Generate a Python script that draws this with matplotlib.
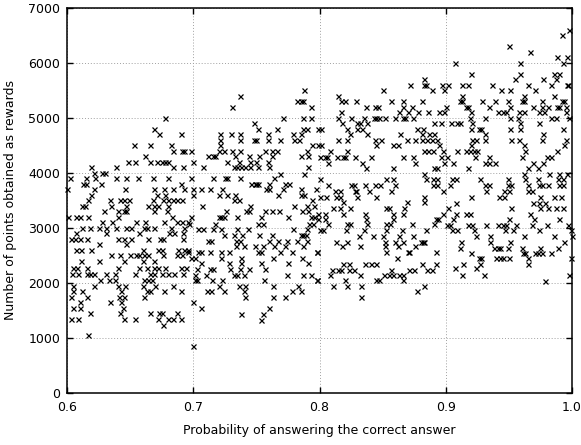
import matplotlib
matplotlib.use('Agg')
import matplotlib.pyplot as plt

# points, grouped by probability band:
# each entry is (reward points, [probabilities at that reward level])
band_060 = [
    (5000, [0.678]), (4800, [0.669]), (4700, [0.673, 0.690]),
    (4500, [0.653, 0.666, 0.682]), (4400, [0.684, 0.691, 0.693]), (4300, [0.662]),
    (4200, [0.648, 0.654, 0.666, 0.671, 0.675, 0.678, 0.680]),
    (4100, [0.619, 0.639, 0.684, 0.692]), (4000, [0.621, 0.628, 0.630]),
    (3900, [0.602, 0.615, 0.622, 0.639, 0.647, 0.656, 0.668, 0.680]),
    (3800, [0.613, 0.615, 0.627, 0.690]),
    (3700, [0.600, 0.621, 0.646, 0.669, 0.677, 0.684, 0.693]),
    (3600, [0.619, 0.671, 0.678]),
    (3500, [0.617, 0.634, 0.642, 0.645, 0.649, 0.668, 0.676, 0.680, 0.684, 0.687, 0.691]),
    (3400, [0.612, 0.614, 0.635, 0.647, 0.664, 0.669, 0.672, 0.680]),
    (3300, [0.629, 0.640, 0.645, 0.647, 0.669, 0.679]),
    (3200, [0.601, 0.607, 0.610, 0.617, 0.640, 0.683]),
    (3100, [0.628, 0.636, 0.655, 0.662, 0.677, 0.687, 0.691, 0.696]),
    (3000, [0.612, 0.618, 0.625, 0.631, 0.639, 0.647, 0.651, 0.661, 0.663, 0.669, 0.682, 0.693]),
    (2900, [0.607, 0.631, 0.657, 0.681, 0.685, 0.692]),
    (2800, [0.603, 0.606, 0.610, 0.616, 0.640, 0.645, 0.651, 0.664, 0.674, 0.676, 0.692]),
    (2700, [0.625, 0.647]),
    (2600, [0.607, 0.611, 0.619, 0.660, 0.672, 0.675, 0.688, 0.693, 0.696]),
    (2500, [0.635, 0.642, 0.650, 0.655, 0.657, 0.661, 0.664, 0.676, 0.687, 0.691]),
    (2400, [0.611, 0.625, 0.645, 0.660, 0.669]),
    (2270, [0.605, 0.608, 0.616, 0.640, 0.657, 0.663, 0.669, 0.672, 0.678, 0.690, 0.694]),
    (2160, [0.604, 0.609, 0.616, 0.618, 0.621, 0.631, 0.638, 0.654, 0.666, 0.669, 0.675, 0.680, 0.685, 0.692]),
    (2050, [0.626, 0.633, 0.638, 0.661, 0.664, 0.667]),
    (1950, [0.605, 0.621, 0.640, 0.646, 0.660, 0.670, 0.684]),
    (1850, [0.605, 0.612, 0.643, 0.663, 0.666, 0.677, 0.690]),
    (1750, [0.603, 0.616, 0.641, 0.645, 0.661]),
    (1650, [0.610, 0.634, 0.643]), (1550, [0.605, 0.610, 0.644]),
    (1450, [0.618, 0.642, 0.666, 0.673, 0.675, 0.687]),
    (1350, [0.603, 0.609, 0.645, 0.654, 0.672, 0.680, 0.684, 0.690]),
    (1240, [0.676]), (1050, [0.617]),
]

band_070 = [
    (5500, [0.788]), (5400, [0.737]), (5300, [0.782, 0.785, 0.787]), (5200, [0.731, 0.793]),
    (5000, [0.771, 0.787, 0.793]), (4900, [0.748]),
    (4800, [0.751, 0.766, 0.787, 0.790, 0.799, 0.801]),
    (4700, [0.721, 0.730, 0.737, 0.759, 0.779, 0.785]),
    (4600, [0.721, 0.737, 0.748, 0.750, 0.759, 0.769, 0.780, 0.784]),
    (4500, [0.721, 0.794, 0.799]),
    (4400, [0.698, 0.720, 0.724, 0.731, 0.737, 0.757, 0.762, 0.766, 0.790]),
    (4300, [0.712, 0.716, 0.717, 0.733, 0.744, 0.752, 0.762, 0.785, 0.791]),
    (4200, [0.700, 0.727, 0.736, 0.745, 0.750, 0.759]),
    (4100, [0.708, 0.732, 0.735, 0.738, 0.741, 0.745, 0.751, 0.760, 0.791]),
    (3980, [0.769, 0.788]),
    (3900, [0.698, 0.716, 0.725, 0.727, 0.737, 0.764]),
    (3800, [0.746, 0.749, 0.750, 0.751, 0.760, 0.773, 0.776]),
    (3700, [0.700, 0.706, 0.713, 0.723, 0.758, 0.760, 0.771, 0.785, 0.797]),
    (3600, [0.700, 0.720, 0.727, 0.733, 0.767, 0.785, 0.788]),
    (3500, [0.732, 0.736, 0.794]),
    (3400, [0.707, 0.745, 0.780, 0.790, 0.796]),
    (3300, [0.726, 0.742, 0.744, 0.757, 0.762, 0.768, 0.786, 0.791]),
    (3200, [0.698, 0.720, 0.722, 0.724, 0.735, 0.754, 0.775, 0.793, 0.796]),
    (3080, [0.697, 0.717, 0.751, 0.755, 0.792, 0.795]),
    (2980, [0.704, 0.708, 0.716, 0.722, 0.735, 0.743, 0.779, 0.790]),
    (2880, [0.724, 0.732, 0.739, 0.752, 0.762, 0.785, 0.787, 0.789]),
    (2770, [0.712, 0.714, 0.734, 0.737, 0.760, 0.767, 0.774, 0.782, 0.790]),
    (2670, [0.734, 0.740, 0.749, 0.755, 0.764, 0.773, 0.787]),
    (2570, [0.696, 0.704, 0.706, 0.713, 0.722, 0.728, 0.751, 0.754, 0.769, 0.778, 0.798]),
    (2460, [0.698, 0.701, 0.722, 0.738, 0.763, 0.786]),
    (2360, [0.706, 0.728, 0.738, 0.754, 0.775, 0.791]),
    (2260, [0.703, 0.713, 0.716, 0.729, 0.737, 0.744, 0.757]),
    (2150, [0.701, 0.710, 0.732, 0.735, 0.740, 0.774, 0.787, 0.793]),
    (2050, [0.701, 0.703, 0.715, 0.723, 0.756, 0.798]),
    (1940, [0.720, 0.736, 0.741, 0.763, 0.783]),
    (1850, [0.711, 0.714, 0.724, 0.740, 0.778, 0.785]),
    (1740, [0.741, 0.763, 0.773]), (1650, [0.700]), (1540, [0.706, 0.760]),
    (1430, [0.738, 0.755]), (1330, [0.754]), (850, [0.700]),
]

band_080 = [
    (5700, [0.883]), (5600, [0.872, 0.883, 0.884, 0.897]), (5500, [0.850, 0.889, 0.899]),
    (5400, [0.815]),
    (5300, [0.817, 0.820, 0.829, 0.857, 0.866, 0.881]),
    (5200, [0.837, 0.844, 0.846, 0.866, 0.873, 0.900]),
    (5100, [0.817, 0.863, 0.870, 0.878, 0.886, 0.895, 0.899]),
    (5000, [0.815, 0.825, 0.835, 0.843, 0.845, 0.847, 0.852, 0.860, 0.866, 0.868, 0.874]),
    (4900, [0.818, 0.830, 0.832, 0.838, 0.891, 0.896]),
    (4800, [0.822, 0.830, 0.834, 0.877, 0.882]),
    (4700, [0.824, 0.838, 0.864, 0.881, 0.887, 0.891]),
    (4600, [0.815, 0.822, 0.844, 0.849, 0.869, 0.876, 0.881, 0.885, 0.889, 0.893]),
    (4500, [0.801, 0.845, 0.858, 0.862, 0.895]),
    (4400, [0.808, 0.822, 0.883, 0.886, 0.890, 0.898]),
    (4290, [0.800, 0.804, 0.806, 0.814, 0.819, 0.820, 0.828, 0.841, 0.866, 0.874, 0.896, 0.901]),
    (4190, [0.807, 0.834, 0.876, 0.899]),
    (4090, [0.837, 0.858, 0.891, 0.893]),
    (3980, [0.883]),
    (3890, [0.800, 0.853, 0.858, 0.884, 0.890, 0.893]),
    (3790, [0.807, 0.825, 0.827, 0.836, 0.844, 0.848, 0.860, 0.890, 0.893]),
    (3680, [0.812, 0.816, 0.828, 0.829, 0.839, 0.857, 0.898]),
    (3570, [0.800, 0.805, 0.813, 0.816, 0.830, 0.845, 0.883]),
    (3470, [0.819, 0.869, 0.883]),
    (3370, [0.811, 0.816, 0.824, 0.853, 0.855, 0.867]),
    (3260, [0.799, 0.804, 0.819, 0.836, 0.858, 0.866, 0.898]),
    (3160, [0.799, 0.804, 0.837, 0.858, 0.892, 0.894]),
    (3070, [0.807, 0.822, 0.824, 0.838, 0.853, 0.856, 0.873, 0.891]),
    (2970, [0.800, 0.803, 0.821, 0.835, 0.853, 0.865, 0.884]),
    (2860, [0.831, 0.842, 0.850, 0.863, 0.874]),
    (2750, [0.813, 0.822, 0.852, 0.860, 0.866, 0.880, 0.882, 0.883]),
    (2670, [0.818, 0.832, 0.852, 0.862, 0.876]),
    (2560, [0.798, 0.853, 0.870, 0.871, 0.892]),
    (2450, [0.861]),
    (2350, [0.819, 0.823, 0.836, 0.841, 0.845, 0.881, 0.892]),
    (2240, [0.810, 0.815, 0.817, 0.823, 0.827, 0.857, 0.871, 0.875, 0.885, 0.889]),
    (2150, [0.808, 0.832, 0.851, 0.855, 0.858, 0.863, 0.866]),
    (2050, [0.798, 0.820, 0.845, 0.847, 0.866]),
    (1940, [0.811, 0.822, 0.833, 0.883]),
    (1850, [0.877]), (1740, [0.833]),
]

band_090 = [
    (6600, [0.998]), (6500, [0.992]), (6300, [0.950]), (6200, [0.967]),
    (6100, [0.988, 0.996]), (6000, [0.907, 0.959, 0.993]),
    (5800, [0.920, 0.959, 0.986, 0.990]), (5700, [0.955, 0.977, 0.987]),
    (5600, [0.902, 0.913, 0.918, 0.937, 0.965, 0.983, 0.996, 0.997]),
    (5500, [0.944, 0.951, 0.971]), (5400, [0.913, 0.962, 0.986]),
    (5300, [0.911, 0.913, 0.929, 0.939, 0.949, 0.960, 0.962, 0.976, 0.992, 0.994]),
    (5200, [0.916, 0.918, 0.934, 0.951, 0.969, 0.976, 0.981, 0.988, 0.990, 0.995]),
    (5100, [0.920, 0.941, 0.945, 0.948, 0.958, 0.962, 0.974, 0.978, 0.995]),
    (5000, [0.919, 0.931, 0.951, 0.957, 0.983, 0.987, 0.998]),
    (4900, [0.904, 0.909, 0.911, 0.921, 0.959, 0.974]),
    (4800, [0.920, 0.926, 0.928, 0.951, 0.959, 0.993]),
    (4700, [0.931, 0.977]),
    (4600, [0.921, 0.924, 0.931, 0.952, 0.958, 0.976, 0.995]),
    (4500, [0.920, 0.962, 0.994]),
    (4400, [0.909, 0.916, 0.919, 0.922, 0.925, 0.963, 0.988]),
    (4290, [0.923, 0.934, 0.960, 0.980, 0.983]),
    (4190, [0.906, 0.931, 0.934, 0.939, 0.969, 0.977]),
    (4090, [0.918, 0.965, 0.973]),
    (3980, [0.962, 0.982, 0.990, 0.996]),
    (3890, [0.905, 0.908, 0.927, 0.949, 0.963, 0.973, 0.989, 0.993]),
    (3790, [0.903, 0.931, 0.934, 0.949, 0.952, 0.965, 0.974, 0.976, 0.981, 0.990, 0.993]),
    (3680, [0.932, 0.946, 0.950, 0.965, 0.968]),
    (3570, [0.920, 0.942, 0.946, 0.975, 0.986, 0.991]),
    (3455, [0.908, 0.969, 0.974, 0.979]),
    (3360, [0.902, 0.952, 0.975, 0.981, 0.987, 0.993]),
    (3260, [0.908, 0.916, 0.919, 0.967]),
    (3160, [0.906, 0.950, 0.970, 0.990]),
    (3060, [0.901, 0.903, 0.918, 0.921, 0.932, 0.941, 0.945, 0.948, 0.956, 0.968, 0.980, 0.997]),
    (2960, [0.905, 0.909, 0.922, 0.947, 0.953, 0.974, 0.999]),
    (2860, [0.924, 0.935, 0.962, 0.986, 1.000]),
    (2750, [0.912, 0.935, 0.951, 0.994]),
    (2640, [0.911, 0.938, 0.941, 0.943, 0.949, 0.960, 0.975, 0.989]),
    (2550, [0.920, 0.961, 0.963, 0.971, 0.973, 0.976, 0.983]),
    (2450, [0.926, 0.928, 0.940, 0.943, 0.945, 0.950, 0.965, 0.999]),
    (2350, [0.914, 0.927, 0.965]),
    (2270, [0.907, 0.924]),
    (2150, [0.913, 0.930, 0.998]),
    (2040, [0.979]),
]

x_ticks = [0.6, 0.7, 0.8, 0.9, 1.0]
x_tick_labels = ['0.6', '0.7', '0.8', '0.9', '1.0']
y_ticks = [0, 1000, 2000, 3000, 4000, 5000, 6000, 7000]


def flatten(rows):
    xs, ys = [], []
    for y, xlist in rows:
        xs += xlist
        ys += [y] * len(xlist)
    return xs, ys


fig = plt.figure(figsize=(5.81, 4.45), dpi=100)
ax = fig.add_axes([67 / 581, 1 - 393 / 445, 505 / 581, 385 / 445])

for band in [band_060, band_070, band_080, band_090]:
    xs, ys = flatten(band)
    ax.plot(xs, ys, linestyle='none', marker='x', color='black',
            markersize=3.6, markeredgewidth=0.9, clip_on=False, zorder=3)

ax.set_xlim(0.6, 1.0)
ax.set_ylim(0, 7000)
ax.set_xticks(x_ticks)
ax.set_xticklabels(x_tick_labels)
ax.set_yticks(y_ticks)

ax.grid(True, linestyle=(0, (1, 2)), color='#a0a0a0', linewidth=0.7)
ax.set_axisbelow(True)

for s in ax.spines.values():
    s.set_linewidth(1.1)
    s.set_color('black')

ax.tick_params(direction='in', length=4.5, width=1, top=True, right=True,
               labelsize=9, colors='black')
ax.tick_params(axis='x', pad=6)
ax.tick_params(axis='y', pad=5)

ax.set_xlabel('Probability of answering the correct answer', fontsize=9, labelpad=7)
ax.set_ylabel('Number of points obtained as rewards', fontsize=9, labelpad=8)

fig.savefig('out.png', dpi=100)
